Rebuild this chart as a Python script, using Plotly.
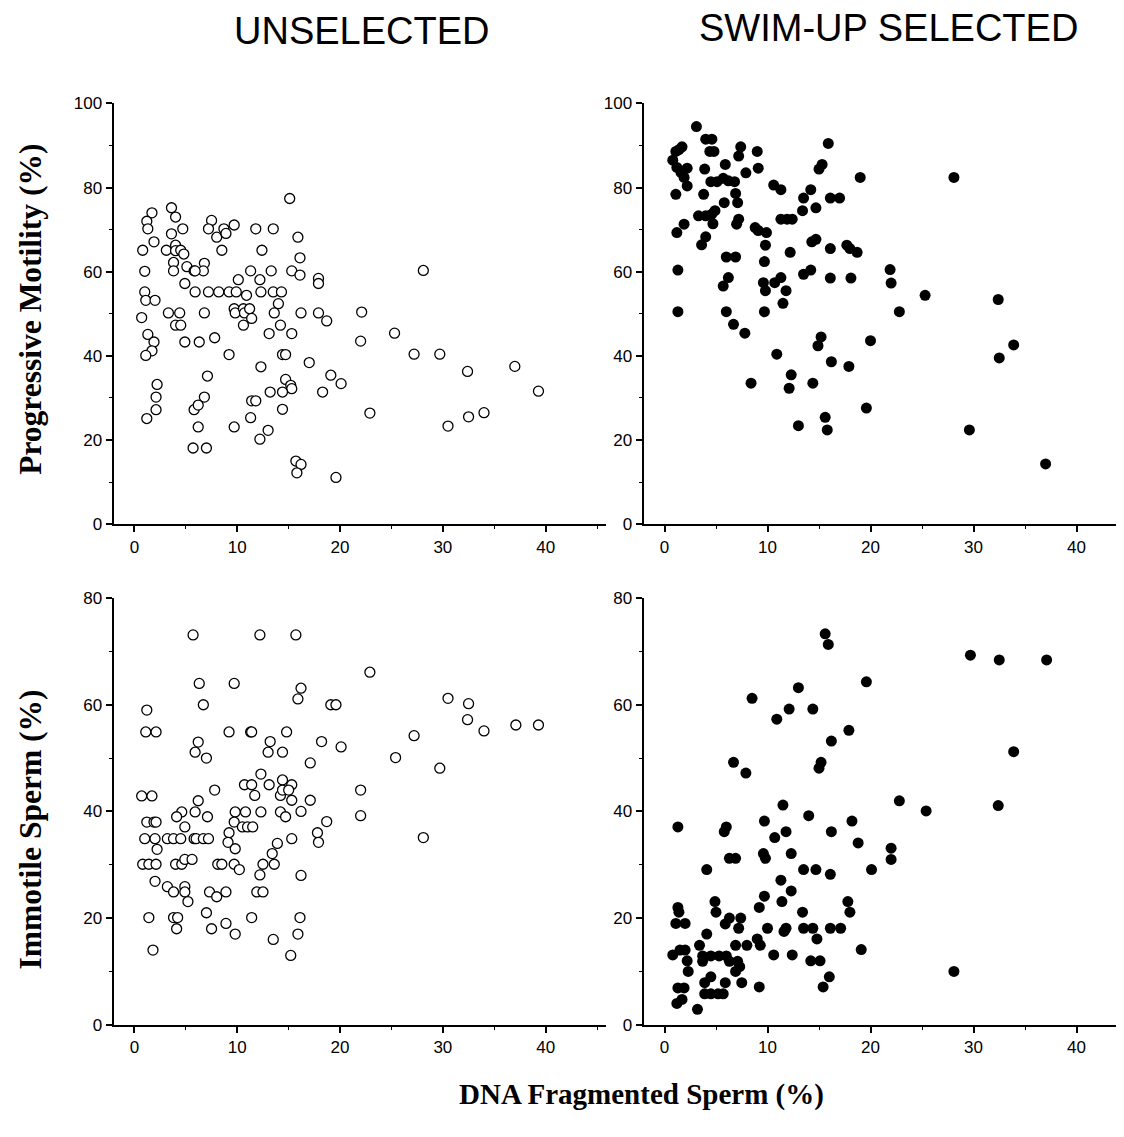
import plotly.graph_objects as go

# ---------------- DATA ----------------
# Unselected: DNA fragmented sperm (%) vs progressive motility (%)
unsel_mot_x = [15.1, 3.6, 4.0, 1.7, 1.2, 1.3, 1.9, 0.8, 3.6, 4.7, 3.1, 4.0, 4.0, 4.5, 4.8, 3.8, 3.8, 5.1,
               5.8, 6.8, 6.7, 5.9, 1.0, 4.9, 7.5, 7.2, 8.0, 8.7, 8.9, 9.7, 8.5, 11.8, 13.5, 12.4, 15.9,
               16.1, 15.3, 16.1, 17.9, 17.9, 11.3, 13.3, 10.1, 12.2, 5.9, 7.2, 8.2, 9.2, 9.9, 10.9, 12.3,
               13.5, 14.3, 1.0, 1.1, 2.0, 14.0,
               0.7, 3.3, 4.4, 4.0, 4.5, 6.8, 9.7, 9.8, 10.6, 10.7, 11.2, 11.4, 10.6, 13.6, 14.2, 16.2,
               17.9, 18.7, 13.1, 15.3, 1.3, 1.9, 1.7, 1.1, 4.9, 6.3, 7.8, 9.2, 14.4, 14.7, 17.0, 12.3,
               7.1, 19.1, 20.1, 14.7, 15.2, 15.3, 14.4, 13.2, 18.3, 2.2, 2.1, 2.1, 1.2, 6.8, 5.8, 6.2,
               6.2, 5.7, 7.0, 11.4, 11.8, 9.7, 11.3, 13.0, 12.2, 14.4, 15.7, 16.2, 15.8, 19.6,
               28.1, 22.1, 22.0, 25.3, 27.2, 29.7, 32.4, 37.0, 39.3, 22.9, 30.5, 32.5, 34.0]
unsel_mot_y = [77.4, 75.2, 73.0, 74.0, 72.0, 70.2, 67.1, 65.1, 69.0, 70.2, 65.1, 66.3, 65.0, 65.1, 64.2, 62.2,
               60.2, 61.2, 60.2, 62.0, 60.2, 60.2, 60.1, 57.2, 72.2, 70.2, 68.2, 70.2, 69.1, 71.1, 65.1,
               70.2, 70.2, 65.1, 68.2, 63.3, 60.2, 59.2, 58.4, 57.2, 60.2, 60.2, 58.1, 58.1, 55.2, 55.2,
               55.2, 55.2, 55.2, 54.4, 55.2, 55.2, 55.2, 55.2, 53.2, 53.2, 52.4,
               49.1, 50.2, 50.2, 47.3, 47.3, 50.2, 51.2, 50.2, 51.2, 50.2, 51.2, 48.9, 47.3, 50.2, 47.3,
               50.2, 50.2, 48.3, 45.3, 45.3, 45.1, 43.3, 41.2, 40.1, 43.3, 43.3, 44.3, 40.3, 40.3, 40.3,
               38.4, 37.4, 35.2, 35.4, 33.4, 34.4, 33.0, 32.2, 31.4, 31.4, 31.4, 33.2, 30.2, 27.2, 25.1,
               30.2, 27.2, 28.3, 23.1, 18.1, 18.1, 29.3, 29.3, 23.1, 25.3, 22.3, 20.2, 27.3, 15.0, 14.2,
               12.2, 11.1,
               60.3, 50.4, 43.5, 45.4, 40.4, 40.4, 36.3, 37.5, 31.6, 26.4, 23.3, 25.5, 26.5]

# Swim-up selected: DNA fragmented sperm (%) vs progressive motility (%)
swim_mot_x = [3.1, 4.0, 4.6, 1.7, 1.1, 1.4, 0.8, 1.2, 1.6, 2.2, 1.9, 2.2, 1.1, 3.9, 4.4, 4.8, 5.9, 7.4, 7.2,
              9.0, 9.1, 7.9, 4.5, 5.1, 5.7, 6.2, 6.8, 3.8, 5.8, 6.9, 7.1, 3.3, 4.0, 4.6, 4.9, 4.7, 1.9,
              1.2, 4.0, 3.6, 7.0, 7.2, 8.8, 9.1, 9.9, 9.8, 10.6, 11.3, 11.3, 11.9, 12.4, 13.5, 14.2,
              14.7, 13.4, 15.0, 15.3, 15.9, 16.1, 17.0, 19.0, 14.3, 14.7, 16.1, 17.7, 18.0, 18.7, 12.2,
              9.7, 6.0, 6.9, 1.3, 6.2, 5.7, 9.6, 9.8, 10.7, 11.3, 11.8, 11.5, 13.5, 14.2, 16.1, 18.1,
              1.3, 6.0, 9.7, 6.7, 7.8, 15.2, 14.9, 20.0, 10.9, 16.2, 17.9, 12.3, 12.1, 8.4, 14.4, 19.6,
              13.0, 15.6, 15.8, 28.1, 21.9, 22.0, 25.3, 22.8, 32.4, 33.9, 32.5, 29.6, 37.0]
swim_mot_y = [94.5, 91.5, 91.5, 89.7, 88.6, 89.0, 86.5, 84.8, 83.6, 84.6, 82.4, 80.4, 78.4, 84.4, 88.6, 88.6,
              85.5, 89.7, 87.5, 88.6, 84.6, 83.5, 81.4, 81.4, 82.2, 81.6, 81.4, 78.4, 76.4, 78.6, 76.4,
              73.3, 73.3, 73.7, 74.5, 71.4, 71.3, 69.3, 68.3, 66.4, 71.3, 72.5, 70.5, 69.8, 69.3, 66.3,
              80.6, 79.5, 72.5, 72.5, 72.5, 77.5, 79.5, 75.2, 74.5, 84.4, 85.5, 90.5, 77.5, 77.5, 82.4,
              67.1, 67.7, 65.5, 66.3, 65.5, 64.6, 64.6, 62.4, 63.5, 63.5, 60.4, 58.6, 56.6, 57.4, 55.5,
              57.4, 58.6, 55.5, 52.5, 59.4, 60.4, 58.5, 58.5, 50.5, 50.5, 50.5, 47.5, 45.4, 44.5, 42.4,
              43.6, 40.4, 38.6, 37.5, 35.5, 32.3, 33.5, 33.5, 27.6, 23.4, 25.4, 22.4, 82.4, 60.5, 57.3,
              54.4, 50.5, 53.4, 42.6, 39.5, 22.4, 14.3]

# Unselected: DNA fragmented sperm (%) vs immotile sperm (%)
unsel_imm_x = [5.7, 12.2, 15.7, 6.3, 9.7, 16.2, 15.9, 6.7, 19.1, 19.6, 1.2, 1.1, 2.1, 9.2, 11.3, 11.4, 14.8,
               6.2, 5.9, 7.0, 13.2, 13.0, 14.4, 18.2, 20.1, 17.1, 12.3, 10.7, 11.4, 13.1, 14.4, 15.3, 11.7,
               14.2, 14.4, 15.0, 15.3, 17.1, 7.8, 0.7, 1.7, 6.2, 22.0, 22.0,
               4.6, 5.9, 7.1, 4.1, 4.9, 1.2, 1.9, 2.1, 9.8, 10.8, 12.3, 14.2, 14.7, 16.2, 9.7, 10.5, 11.0,
               11.5, 18.7, 1.0, 2.0, 2.2, 3.2, 3.8, 4.5, 5.8, 6.0, 6.7, 7.2, 9.2, 9.1, 9.8, 13.9, 15.3,
               17.8, 17.9, 0.8, 1.4, 2.1, 4.0, 4.6, 4.9, 5.6, 8.1, 8.5, 9.7, 10.2, 13.4, 12.5, 13.6, 12.2,
               2.0, 3.2, 3.8, 4.9, 4.9, 5.2, 7.3, 8.0, 8.9, 11.9, 12.5, 16.2, 1.4, 3.8, 4.2, 4.1, 7.0,
               7.5, 8.9, 9.8, 11.4, 13.5, 16.1, 15.9, 15.2, 1.8,
               22.9, 30.5, 32.5, 32.4, 34.0, 37.1, 39.3, 27.2, 25.4, 29.7, 28.1]
unsel_imm_y = [73.1, 73.1, 73.1, 64.0, 64.0, 63.1, 61.1, 60.0, 60.0, 60.0, 59.0, 54.9, 54.9, 54.9, 54.9,
               54.9, 54.9, 53.0, 51.1, 50.0, 53.1, 51.1, 51.1, 53.1, 52.1, 49.1, 47.0, 45.0, 45.0, 45.0,
               45.9, 45.0, 43.0, 43.0, 44.0, 44.0, 42.1, 42.1, 44.0, 42.9, 42.9, 42.0, 44.0, 39.2,
               39.9, 39.9, 39.0, 39.0, 37.1, 38.0, 38.0, 38.0, 39.9, 39.9, 39.9, 39.9, 39.0, 40.0, 38.0,
               37.1, 37.1, 37.1, 38.1, 34.9, 34.9, 32.9, 34.9, 34.9, 34.9, 34.9, 34.9, 34.9, 34.9, 36.0,
               34.2, 33.0, 34.0, 34.9, 36.0, 34.2, 30.1, 30.1, 30.1, 30.1, 30.1, 31.0, 31.0, 30.1, 30.1,
               30.1, 29.1, 32.1, 30.1, 30.1, 28.1, 26.9, 25.9, 24.9, 25.9, 24.9, 23.1, 24.9, 24.0, 24.9,
               24.9, 24.9, 28.0, 20.1, 20.1, 20.1, 18.0, 21.0, 18.0, 19.0, 17.0, 20.1, 16.0, 20.1, 17.0,
               13.0, 14.0,
               66.1, 61.2, 60.2, 57.2, 55.1, 56.2, 56.2, 54.2, 50.1, 48.1, 35.1]

# Swim-up selected: DNA fragmented sperm (%) vs immotile sperm (%)
swim_imm_x = [15.6, 15.9, 19.6, 13.0, 8.5, 12.1, 14.4, 10.9, 17.9, 16.2, 6.7, 7.9, 15.2, 15.0, 11.5,
              14.0, 9.7, 18.2, 1.3, 5.8, 6.0, 11.8, 10.7, 16.2, 18.8, 12.3, 9.6, 9.8, 6.3, 6.9, 4.1, 13.5,
              14.7, 16.1, 20.1, 11.3, 12.3, 11.4, 9.7, 9.2, 4.9, 5.0, 1.3, 1.4, 1.1, 2.0, 13.4, 17.8, 18.0,
              6.3, 7.4, 5.9, 7.2, 10.0, 11.6, 11.8, 13.5, 14.4, 14.8, 16.1, 17.1, 4.1, 3.4, 6.9, 8.0, 9.0,
              9.3, 19.1, 0.8, 1.5, 2.0, 2.2, 2.3, 3.7, 3.7, 4.5, 5.3, 6.0, 6.3, 7.1, 7.3, 6.9, 5.9, 7.5,
              10.6, 12.4, 14.2, 15.1, 4.5, 3.9, 4.5, 3.9, 5.2, 5.7, 1.3, 1.9, 1.2, 1.7, 3.2, 9.2, 16.0,
              15.4,
              29.7, 32.5, 37.1, 33.9, 22.8, 25.4, 32.4, 22.0, 22.0, 28.1]
swim_imm_y = [73.3, 71.3, 64.3, 63.2, 61.2, 59.2, 59.2, 57.3, 55.2, 53.2, 49.2, 47.2, 49.2, 48.1, 41.2,
              39.2, 38.2, 38.2, 37.1, 36.2, 37.1, 36.2, 35.1, 36.2, 34.1, 32.1, 32.1, 31.2, 31.2, 31.2,
              29.1, 29.1, 29.1, 28.2, 29.1, 27.1, 25.1, 23.1, 24.1, 22.0, 23.1, 21.1, 22.0, 21.1, 19.0,
              19.0, 21.1, 23.1, 21.1, 20.0, 20.0, 18.9, 18.1, 18.1, 17.5, 18.1, 18.1, 18.1, 16.1, 18.1,
              18.1, 17.0, 14.9, 14.9, 14.9, 16.1, 14.9, 14.1, 13.1, 14.0, 14.0, 12.0, 10.0, 12.9, 11.9,
              12.9, 12.9, 12.9, 11.9, 11.9, 10.9, 10.0, 7.9, 7.9, 13.1, 13.1, 12.0, 12.0, 9.0, 7.9, 5.8,
              5.8, 5.8, 5.8, 6.9, 6.9, 4.0, 4.75, 2.9, 7.1, 9.0, 7.1,
              69.3, 68.4, 68.4, 51.2, 42.0, 40.1, 41.1, 33.1, 31.0, 10.0]

x_ticks = [0, 10, 20, 30, 40]
mot_ticks = [0, 20, 40, 60, 80, 100]
imm_ticks = [0, 20, 40, 60, 80]

panel_titles = ["UNSELECTED", "SWIM-UP SELECTED"]
y_titles = ["Progressive Motility (%)", "Immotile Sperm (%)"]
x_title = "DNA Fragmented Sperm (%)"

# ---------------- FIGURE ----------------
W, H = 1124, 1137
# observed page mapping: screen_x = 7.5 + fx*W ; screen_y = 1135.3 - fy*1118.8
EFF_H = 1118.8
BOT = 1135.3
OFFX = 7.5


def fx(px):
    return (px - OFFX) / W


def fy(py):
    return (BOT - py) / EFF_H


open_marker = dict(symbol="circle", size=10, color="white", line=dict(color="black", width=1.3))
fill_marker = dict(symbol="circle", size=11, color="black", line=dict(width=0))

fig = go.Figure()
fig.add_trace(go.Scatter(x=unsel_mot_x, y=unsel_mot_y, mode="markers", marker=open_marker,
                         xaxis="x", yaxis="y", showlegend=False))
fig.add_trace(go.Scatter(x=swim_mot_x, y=swim_mot_y, mode="markers", marker=fill_marker,
                         xaxis="x2", yaxis="y2", showlegend=False))
fig.add_trace(go.Scatter(x=unsel_imm_x, y=unsel_imm_y, mode="markers", marker=open_marker,
                         xaxis="x3", yaxis="y3", showlegend=False))
fig.add_trace(go.Scatter(x=swim_imm_x, y=swim_imm_y, mode="markers", marker=fill_marker,
                         xaxis="x4", yaxis="y4", showlegend=False))

tick_font = dict(family="Liberation Sans, Arial, sans-serif", size=17, color="black")


def xax(domain, rng, anchor):
    return dict(domain=domain, range=rng, anchor=anchor, tickvals=x_ticks, ticks="outside",
                ticklen=6, tickwidth=1.5, tickcolor="black", showline=True, linecolor="black",
                linewidth=2, showgrid=False, zeroline=False, tickfont=tick_font,
                minor=dict(ticks="outside", ticklen=3, tickwidth=1.2, tickcolor="black",
                           tickvals=[5, 15, 25, 35, 45]))


def yax(domain, rng, anchor, ticks, minor):
    return dict(domain=domain, range=rng, anchor=anchor, tickvals=ticks, ticks="outside",
                ticklen=6, tickwidth=1.5, tickcolor="black", showline=True, linecolor="black",
                linewidth=2, showgrid=False, zeroline=False, tickfont=tick_font,
                minor=dict(ticks="outside", ticklen=3, tickwidth=1.2, tickcolor="black",
                           tickvals=minor))


left_dom = [fx(113), fx(605)]
right_dom = [fx(643), 1.0]
top_dom = [fy(524), fy(103)]
bot_dom = [fy(1025), fy(598)]
left_rng = [-2.04, 45.82]
right_rng = [-2.04, (W * 1.0 + OFFX - 664) / 10.3]

fig.update_layout(
    width=W, height=H,
    margin=dict(l=0, r=0, t=0, b=0),
    paper_bgcolor="white", plot_bgcolor="white",
    xaxis=xax(left_dom, left_rng, "y"),
    yaxis=yax(top_dom, [0, 100], "x", mot_ticks, [10, 30, 50, 70, 90]),
    xaxis2=xax(right_dom, right_rng, "y2"),
    yaxis2=yax(top_dom, [0, 100], "x2", mot_ticks, [10, 30, 50, 70, 90]),
    xaxis3=xax(left_dom, left_rng, "y3"),
    yaxis3=yax(bot_dom, [0, 80], "x3", imm_ticks, [10, 30, 50, 70]),
    xaxis4=xax(right_dom, right_rng, "y4"),
    yaxis4=yax(bot_dom, [0, 80], "x4", imm_ticks, [10, 30, 50, 70]),
)

title_font = dict(family="Liberation Sans, Arial, sans-serif", size=38, color="black")
serif_y = dict(family="Liberation Serif, Times New Roman, serif", size=31.5, color="black")
serif_x = dict(family="Liberation Serif, Times New Roman, serif", size=29, color="black")

annots = [
    dict(text=panel_titles[0], x=fx(361.5), y=fy(31), xref="paper", yref="paper",
         showarrow=False, font=title_font, xanchor="center", yanchor="middle", borderpad=0),
    dict(text=panel_titles[1], x=fx(888.5), y=fy(28), xref="paper", yref="paper",
         showarrow=False, font=title_font, xanchor="center", yanchor="middle", borderpad=0),
    dict(text="<b>" + y_titles[0] + "</b>", x=fx(30), y=fy(309), xref="paper", yref="paper",
         showarrow=False, font=serif_y, textangle=-90, xanchor="center", yanchor="middle"),
    dict(text="<b>" + y_titles[1] + "</b>", x=fx(30), y=fy(830), xref="paper", yref="paper",
         showarrow=False, font=serif_y, textangle=-90, xanchor="center", yanchor="middle"),
    dict(text="<b>" + x_title + "</b>", x=fx(641), y=fy(1095), xref="paper", yref="paper",
         showarrow=False, font=serif_x, xanchor="center", yanchor="middle"),
]
fig.update_layout(annotations=annots)

fig.write_html("out.html")
